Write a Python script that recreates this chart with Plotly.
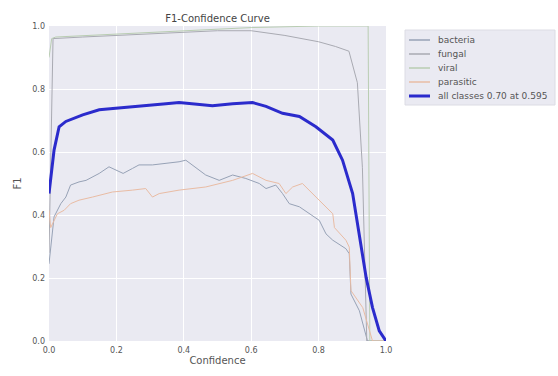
import plotly.graph_objects as go

# ---- data ----
bacteria_x = [0.0, 0.015, 0.035, 0.05, 0.064, 0.089, 0.11, 0.149, 0.178, 0.198, 0.22, 0.248, 0.267,
              0.307, 0.347, 0.386, 0.406, 0.426, 0.465, 0.505, 0.545, 0.584, 0.624, 0.644, 0.673,
              0.693, 0.713, 0.743, 0.772, 0.802, 0.822, 0.842, 0.881, 0.891, 0.896, 0.921, 0.945, 1.0]
bacteria_y = [0.245, 0.394, 0.436, 0.457, 0.495, 0.505, 0.51, 0.532, 0.553, 0.543, 0.532, 0.548, 0.559,
              0.559, 0.564, 0.569, 0.574, 0.559, 0.527, 0.51, 0.527, 0.516, 0.5, 0.484, 0.495,
              0.468, 0.436, 0.426, 0.404, 0.383, 0.34, 0.32, 0.293, 0.277, 0.149, 0.096, 0.0, 0.0]

fungal_x = [0.0, 0.006, 0.012, 0.1, 0.2, 0.3, 0.4, 0.5, 0.6, 0.7, 0.8, 0.85, 0.89, 0.9, 0.915, 0.93, 0.943, 1.0]
fungal_y = [0.28, 0.6, 0.96, 0.965, 0.97, 0.975, 0.98, 0.985, 0.985, 0.97, 0.95, 0.935, 0.92, 0.88, 0.82, 0.55, 0.0, 0.0]

viral_x = [0.0, 0.008, 0.02, 0.2, 0.4, 0.6, 0.8, 0.9, 0.947, 0.952, 1.0]
viral_y = [0.9, 0.96, 0.965, 0.975, 0.985, 0.995, 1.0, 1.0, 1.0, 0.0, 0.0]

parasitic_x = [0.0, 0.005, 0.025, 0.045, 0.064, 0.089, 0.129, 0.188, 0.248, 0.287, 0.307, 0.327, 0.386,
               0.465, 0.545, 0.604, 0.644, 0.683, 0.703, 0.723, 0.752, 0.792, 0.842, 0.847, 0.881,
               0.891, 0.896, 0.931, 0.96, 1.0]
parasitic_y = [0.415, 0.36, 0.404, 0.415, 0.436, 0.447, 0.457, 0.473, 0.479, 0.484, 0.457, 0.468, 0.479,
               0.489, 0.51, 0.532, 0.51, 0.5, 0.468, 0.489, 0.5, 0.457, 0.404, 0.36, 0.32,
               0.298, 0.16, 0.106, 0.0, 0.0]

all_x = [0.0, 0.015, 0.03, 0.05, 0.1, 0.149, 0.198, 0.248, 0.297, 0.347, 0.386, 0.446, 0.485, 0.545,
         0.604, 0.644, 0.693, 0.743, 0.792, 0.842, 0.871, 0.901, 0.921, 0.941, 0.96, 0.98, 1.0]
all_y = [0.468, 0.606, 0.68, 0.697, 0.718, 0.734, 0.739, 0.743, 0.747, 0.753, 0.757, 0.75, 0.747, 0.753,
         0.757, 0.745, 0.723, 0.713, 0.68, 0.638, 0.574, 0.468, 0.34, 0.202, 0.106, 0.032, 0.0]

names = ["bacteria", "fungal", "viral", "parasitic", "all classes 0.70 at 0.595"]
tick_vals = [0.0, 0.2, 0.4, 0.6, 0.8, 1.0]

series = [
    (bacteria_x, bacteria_y, "#97a2b6", 1),
    (fungal_x, fungal_y, "#a9aab2", 1),
    (viral_x, viral_y, "#b9cdb2", 1),
    (parasitic_x, parasitic_y, "#e9bca4", 1),
    (all_x, all_y, "#2b2bcc", 3),
]

W, H = 558, 376
L, R, T, B = 49, 172, 26, 35
pw, ph = W - L - R, H - T - B


def px_x(p):  # container pixel -> paper x
    return (p - L) / pw


def px_y(p):  # container pixel -> paper y
    return (H - B - p) / ph


fig = go.Figure()
for (xs, ys, col, w), nm in zip(series, names):
    fig.add_trace(go.Scatter(x=xs, y=ys, mode="lines", name=nm,
                             line=dict(color=col, width=w)))

# compact legend (matplotlib-like spacing)
shapes = [dict(type="rect", xref="paper", yref="paper",
               x0=px_x(405), x1=px_x(555), y0=px_y(105), y1=px_y(30),
               fillcolor="#eaeaf2", line=dict(color="#dcdce4", width=1), layer="below")]
annotations = []
row0, gap = 40, 14
for i, ((xs, ys, col, w), nm) in enumerate(zip(series, names)):
    yy = px_y(row0 + i * gap)
    shapes.append(dict(type="line", xref="paper", yref="paper",
                       x0=px_x(409), x1=px_x(430), y0=yy, y1=yy,
                       line=dict(color=col, width=w if w > 1 else 1.5)))
    annotations.append(dict(text=nm, xref="paper", yref="paper", x=px_x(436), y=yy,
                            xanchor="left", yanchor="middle", showarrow=False,
                            font=dict(size=9, color="#555555")))

fig.update_layout(
    width=W, height=H,
    margin=dict(l=L, r=R, t=T, b=B),
    paper_bgcolor="white",
    plot_bgcolor="#eaeaf2",
    font=dict(family="DejaVu Sans", size=8, color="#555555"),
    title=dict(text="F1-Confidence Curve", x=(L + W - R) / 2 / W, xanchor="center",
               y=1 - 18 / H, yanchor="middle", font=dict(size=10, color="#444444")),
    showlegend=False,
    shapes=shapes,
    annotations=annotations,
)
fig.update_xaxes(range=[0, 1], tickvals=tick_vals, tickformat=".1f", showgrid=True,
                 gridcolor="white", gridwidth=1, zeroline=False, showline=False, ticks="",
                 ticklabelstandoff=3,
                 title=dict(text="Confidence", font=dict(size=10, color="#555555"), standoff=2))
fig.update_yaxes(range=[0, 1], tickvals=tick_vals, tickformat=".1f", showgrid=True,
                 gridcolor="white", gridwidth=1, zeroline=False, showline=False, ticks="",
                 ticklabelstandoff=3,
                 title=dict(text="F1", font=dict(size=10, color="#555555"), standoff=8))

fig.write_html("out.html")
